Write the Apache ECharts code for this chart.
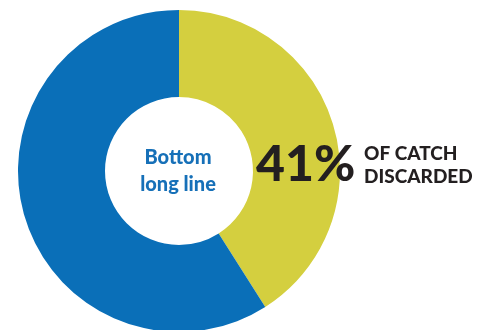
<!DOCTYPE html>
<html>
<head>
<meta charset="utf-8">
<script src="https://cdn.jsdelivr.net/npm/echarts@6/dist/echarts.min.js"></script>
<style>
  html, body { margin: 0; padding: 0; background: #fff; }
  #chart { width: 491px; height: 330px; }
</style>
</head>
<body>
<div id="chart"></div>
<script>
// Share of catch discarded vs. retained for bottom long line fishing
const categories = ['Discarded', 'Retained'];
const shares = [41, 59];
const sliceColors = ['#d4cf3f', '#0a6fb8'];
const gearName = ['Bottom', 'long line'];
const headline = shares[0] + '%';
const caption = ['OF CATCH', 'DISCARDED'];

const chart = echarts.init(document.getElementById('chart'), null, { renderer: 'canvas' });

chart.setOption({
  animation: false,
  series: [{
    type: 'pie',
    center: [179, 171],
    radius: [74, 161],
    startAngle: 90,
    clockwise: true,
    silent: true,
    z: 1,
    label: { show: false },
    labelLine: { show: false },
    itemStyle: { borderWidth: 0 },
    data: categories.map((name, i) => ({
      name,
      value: shares[i],
      itemStyle: { color: sliceColors[i] }
    }))
  }],
  graphic: [
    {
      type: 'text', x: 178, y: 171, z: 100,
      style: {
        text: gearName.join('\n'), align: 'center', verticalAlign: 'middle',
        fill: '#1670b8', font: '900 20px Lato', lineHeight: 27
      }
    },
    {
      type: 'text', x: 256, y: 165, z: 100,
      style: { text: headline, fill: '#231f20', font: '900 50px Lato', verticalAlign: 'middle' }
    },
    {
      type: 'text', x: 364, y: 165, z: 100,
      style: {
        text: caption.join('\n'), fill: '#231f20', verticalAlign: 'middle',
        font: '900 19px Lato', lineHeight: 23
      }
    }
  ]
});
</script>
</body>
</html>
